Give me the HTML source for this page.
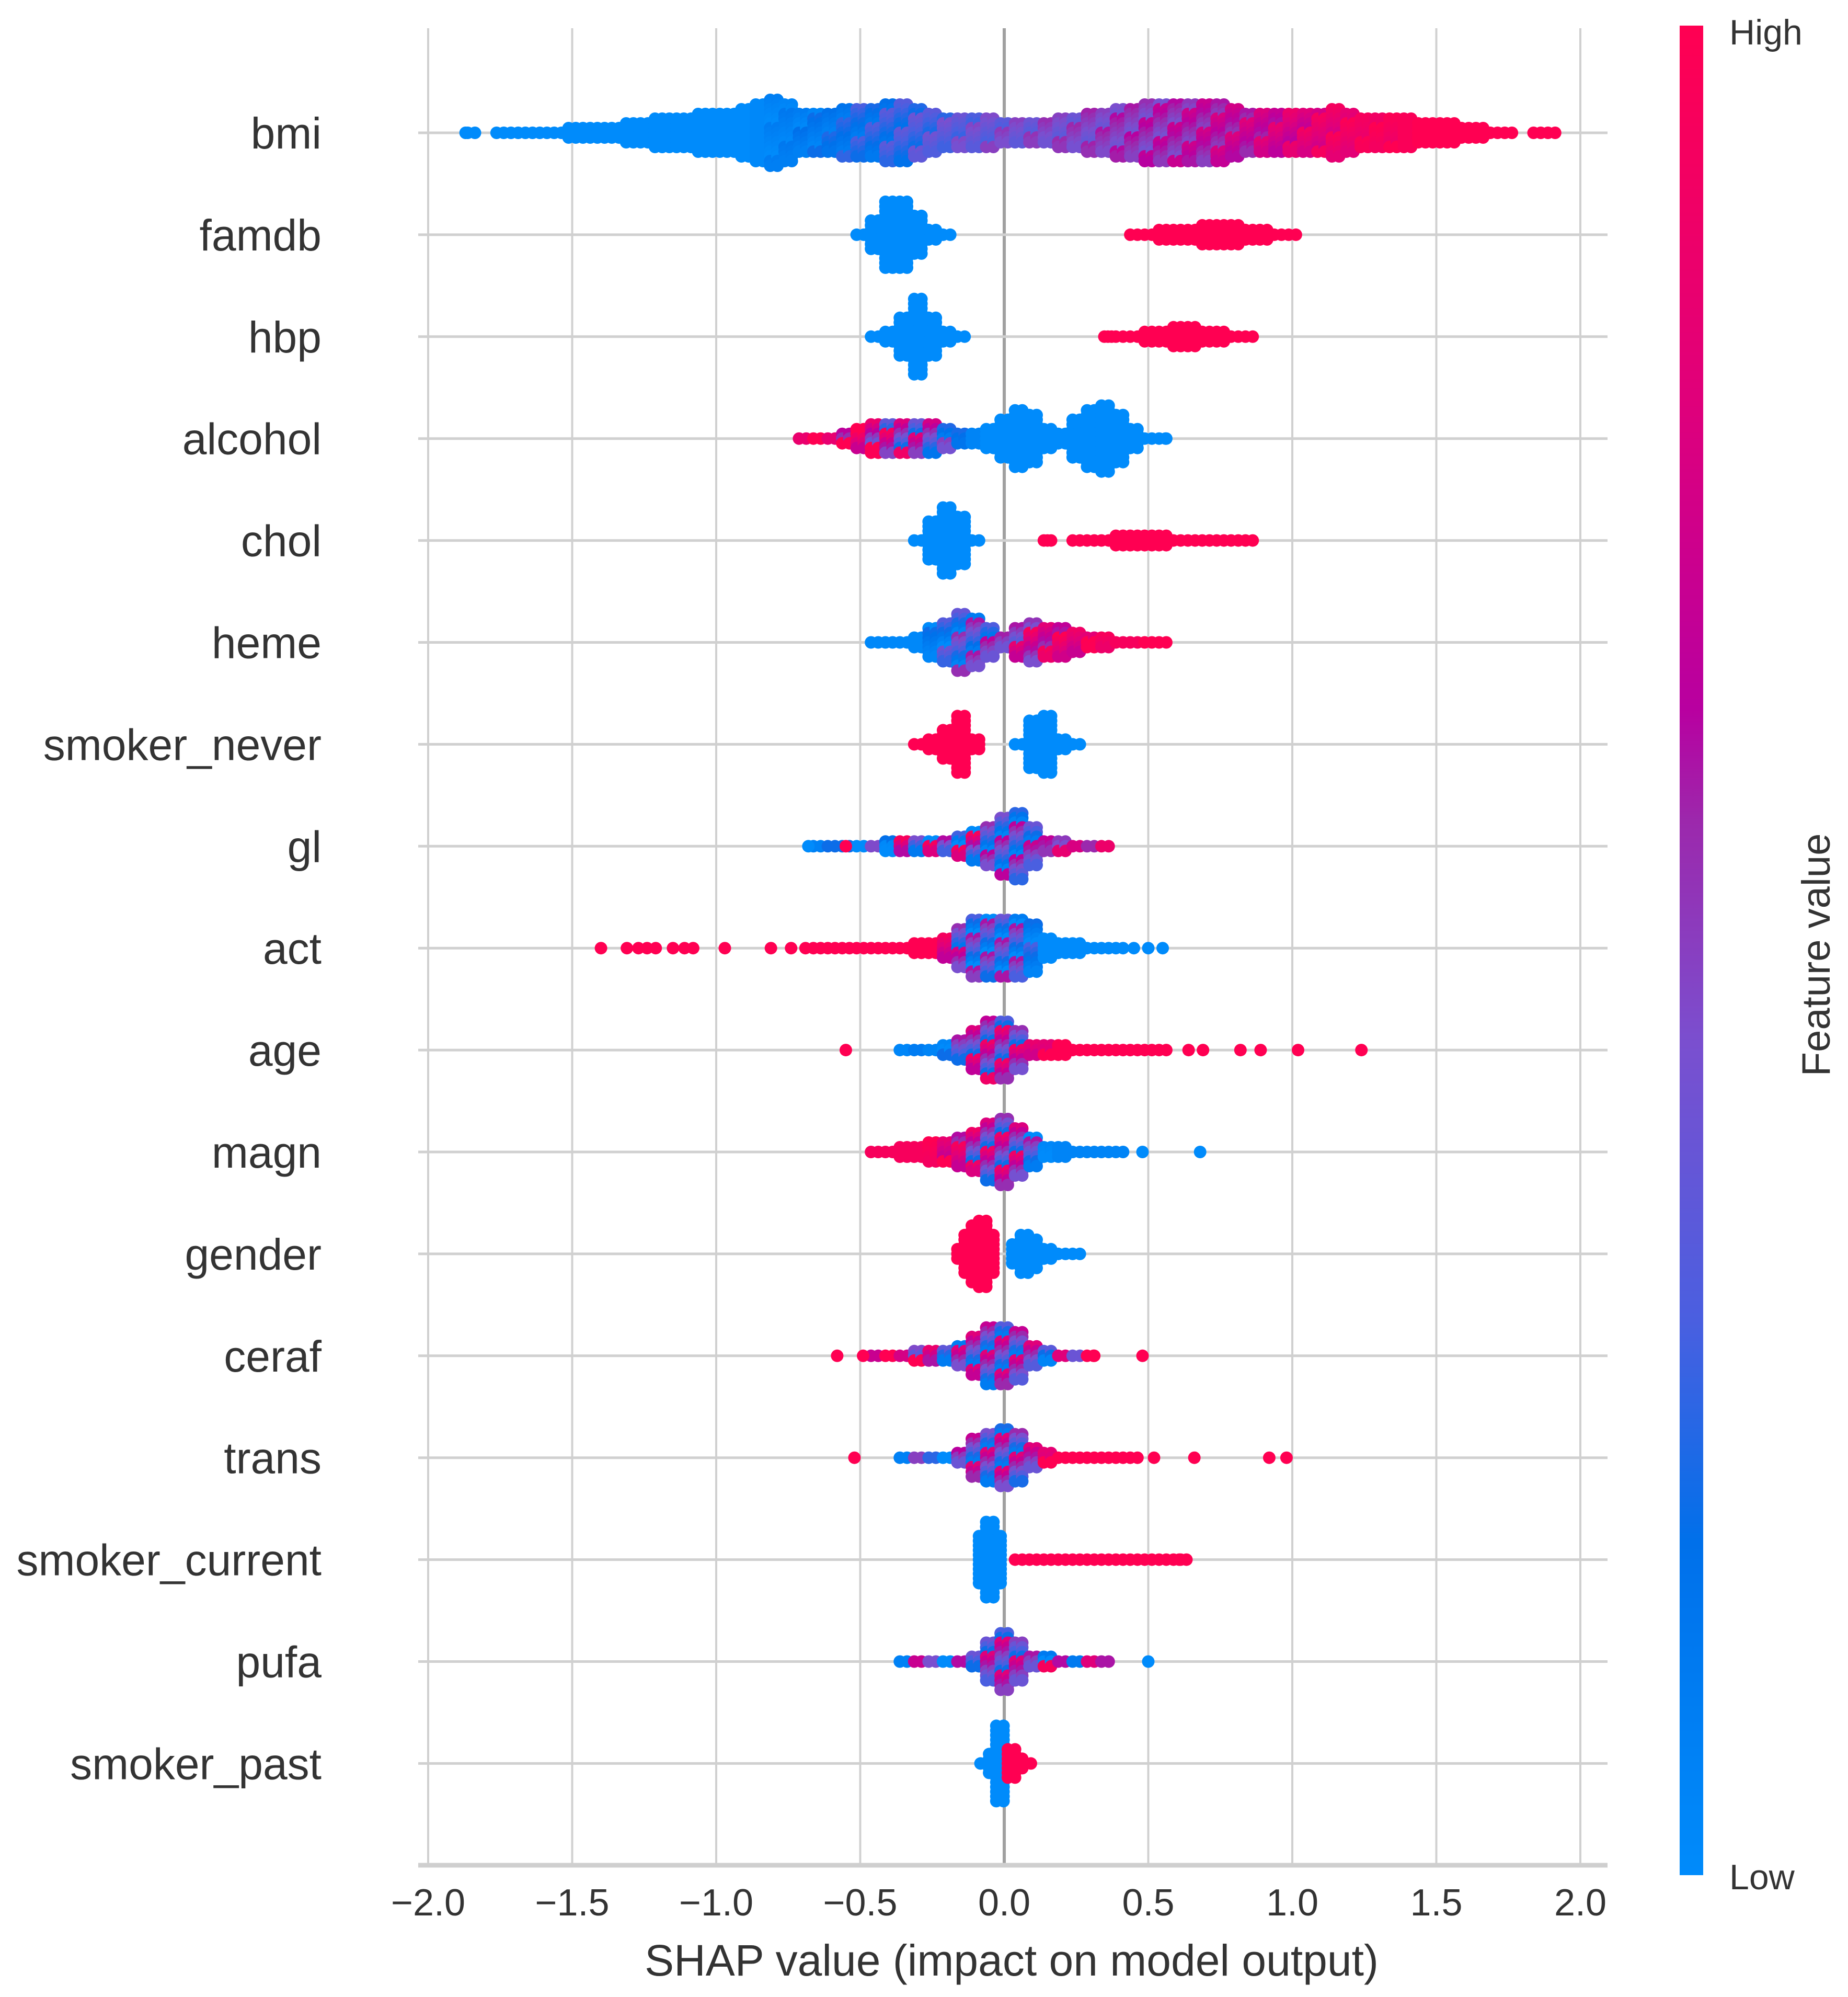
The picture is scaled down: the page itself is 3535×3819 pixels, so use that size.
<!DOCTYPE html>
<html><head><meta charset="utf-8"><style>
html,body{margin:0;padding:0;background:#fff;}
svg{display:block;}
text{font-family:"Liberation Sans",sans-serif;}
</style></head><body>
<svg id="chart" xmlns="http://www.w3.org/2000/svg" width="3535" height="3819" viewBox="0 0 3535 3819">
<defs>
<linearGradient id="cbar" x1="0" y1="1" x2="0" y2="0">
<stop offset="0" stop-color="#008bfb"/><stop offset="0.18" stop-color="#0070ea"/><stop offset="0.3" stop-color="#4a5fe0"/><stop offset="0.45" stop-color="#7a4fcf"/><stop offset="0.57" stop-color="#9c28ac"/><stop offset="0.63" stop-color="#b800a0"/><stop offset="0.8" stop-color="#e0007a"/><stop offset="1" stop-color="#ff0052"/>
</linearGradient>
</defs>
<g id="grid"></g>
<g id="dots"></g>
<g id="labels"></g>
<rect x="3213" y="49" width="45" height="3537" fill="url(#cbar)"/>
<text x="3308" y="85" font-size="68" fill="#333">High</text>
<text x="3308" y="3613" font-size="68" fill="#333">Low</text>
<text transform="translate(3500,1826) rotate(-90)" text-anchor="middle" font-size="76" fill="#333">Feature value</text>
<text x="1935" y="3778" text-anchor="middle" font-size="84" fill="#333">SHAP value (impact on model output)</text>
</svg>
<script>
const features = ["bmi","famdb","hbp","alcohol","chol","heme","smoker_never","gl","act","age","magn","gender","ceraf","trans","smoker_current","pufa","smoker_past"];
const xTicks = [-2.0,-1.5,-1.0,-0.5,0.0,0.5,1.0,1.5,2.0];
const xTickLabels = ["\u22122.0","\u22121.5","\u22121.0","\u22120.5","0.0","0.5","1.0","1.5","2.0"];

const bmiX = [-1.85,-1.75,-1.70,-1.65,-1.60,-1.55,-1.50,-1.45,-1.40,-1.35,-1.30,-1.25,-1.20,-1.15,-1.10,-1.05,-1.00,-0.95,-0.90,-0.85,-0.80,-0.75,-0.70,-0.65,-0.60,-0.55,-0.50,-0.45,-0.40,-0.35,-0.30,-0.25,-0.20,-0.15,-0.10,-0.05,0.00,0.05,0.10,0.15,0.20,0.25,0.30,0.35,0.40,0.45,0.50,0.55,0.60,0.65,0.70,0.75,0.80,0.85,0.90,0.95,1.00,1.05,1.10,1.15,1.20,1.25,1.30,1.35,1.40,1.45,1.50,1.55,1.60,1.65,1.70,1.75,1.85,1.90];
const bmiH = [8,8,8,10,12,14,18,20,22,24,28,32,38,42,42,45,48,50,58,68,72,62,50,45,48,55,55,60,65,70,55,45,38,35,38,35,32,30,28,32,35,40,45,50,55,60,62,65,68,70,68,62,55,50,48,45,45,48,52,55,48,42,38,38,35,30,28,30,22,18,14,12,12,10];
const bmiC = [0,0,0,0,0,0,0,0,0,0,0,0,0,0,0,0,0,0,0,0.02,0.05,0.08,0.1,0.12,0.15,0.18,0.2,0.22,0.25,0.27,0.3,0.32,0.35,0.37,0.38,0.4,0.42,0.43,0.44,0.45,0.46,0.47,0.48,0.5,0.52,0.53,0.55,0.56,0.58,0.6,0.62,0.64,0.66,0.68,0.7,0.73,0.76,0.8,0.84,0.87,0.9,0.93,0.95,0.95,0.97,1,1,1,1,1,1,1,1,1];
const bmiS = [0,0,0,0,0,0,0,0,0,0,0,0,0,0,0,0,0,0,0,0,0.05,0.05,0.08,0.08,0.08,0.08,0.1,0.1,0.1,0.1,0.1,0.1,0.1,0.1,0.1,0.1,0.1,0.1,0.1,0.1,0.1,0.1,0.1,0.1,0.1,0.1,0.12,0.12,0.12,0.12,0.12,0.12,0.12,0.12,0.12,0.12,0.12,0.12,0.1,0.1,0.08,0.05,0.05,0.05,0,0,0,0,0,0,0,0,0,0];

const famdbX = [-0.50,-0.45,-0.40,-0.35,-0.30,-0.25,-0.20,0.45,0.50,0.55,0.60,0.65,0.70,0.75,0.80,0.85,0.90,0.95,1.00];
const famdbH = [8,40,75,78,50,25,8,8,15,18,20,25,28,30,28,25,20,15,8];
const famdbC = [0,0,0,0,0,0,0,1,1,1,1,1,1,1,1,1,1,1,1];

const hbpX = [-0.45,-0.40,-0.35,-0.30,-0.25,-0.20,-0.15,0.36,0.40,0.45,0.50,0.55,0.60,0.65,0.70,0.75,0.80,0.85];
const hbpH = [8,25,50,82,50,20,8,8,10,15,18,22,27,28,25,20,15,10];
const hbpC = [0,0,0,0,0,0,0,1,1,1,1,1,1,1,1,1,1,1];

const alcoholX = [-0.70,-0.65,-0.60,-0.55,-0.50,-0.45,-0.40,-0.35,-0.30,-0.25,-0.20,-0.15,-0.10,-0.05,0.00,0.05,0.10,0.15,0.20,0.25,0.30,0.35,0.40,0.45,0.50,0.55];
const alcoholH = [10,12,15,22,28,35,38,38,38,35,30,25,22,30,50,65,55,30,25,45,65,78,55,30,15,10];
const alcoholC = [0.9,0.9,0.85,0.85,0.8,0.75,0.6,0.55,0.5,0.45,0.3,0.15,0.05,0,0,0,0,0,0,0,0,0,0,0,0,0];
const alcoholS = [0.1,0.1,0.3,0.3,0.3,0.35,0.35,0.35,0.3,0.3,0.2,0.1,0,0,0,0,0,0,0,0,0,0,0,0,0,0];

const cholX = [-0.30,-0.25,-0.20,-0.15,-0.10,0.15,0.25,0.30,0.35,0.40,0.45,0.50,0.55,0.60,0.65,0.70,0.75,0.80,0.85];
const cholH = [10,45,78,60,15,8,12,14,16,18,20,20,18,16,14,12,10,10,8];
const cholC = [0,0,0,0,0,1,1,1,1,1,1,1,1,1,1,1,1,1,1];

const hemeX = [-0.45,-0.40,-0.35,-0.30,-0.25,-0.20,-0.15,-0.10,-0.05,0.00,0.05,0.10,0.15,0.20,0.25,0.30,0.35,0.40,0.45,0.50,0.55];
const hemeH = [10,12,15,22,35,50,70,55,35,25,40,45,42,40,30,25,20,15,12,10,10];
const hemeC = [0.02,0.02,0.02,0.02,0.1,0.2,0.3,0.35,0.4,0.5,0.6,0.7,0.75,0.8,0.85,0.92,0.92,0.95,0.95,1,1];
const hemeS = [0,0,0,0,0.1,0.2,0.25,0.25,0.25,0.25,0.25,0.25,0.2,0.2,0.15,0.1,0.1,0,0,0,0];

const neverX = [-0.30,-0.25,-0.20,-0.15,-0.10,0.05,0.10,0.15,0.20,0.25];
const neverH = [10,20,40,62,25,15,60,70,25,10];
const neverC = [1,1,1,1,1,0,0,0,0,0];

const glX = [-0.65,-0.60,-0.55,-0.50,-0.45,-0.40,-0.35,-0.30,-0.25,-0.20,-0.15,-0.10,-0.05,0.00,0.05,0.10,0.15,0.20,0.25,0.30,0.35];
const glH = [10,10,12,14,16,18,20,22,22,25,28,35,50,70,75,45,25,18,14,12,10];
const glC = [0.1,0.1,0.2,0.3,0.3,0.35,0.45,0.45,0.45,0.45,0.45,0.45,0.35,0.35,0.35,0.4,0.6,0.65,0.7,0.7,0.75];
const glS = [0.1,0.1,0.5,0.5,0.5,0.5,0.5,0.5,0.5,0.5,0.5,0.5,0.3,0.3,0.3,0.3,0.2,0.2,0.2,0.2,0.2];

const actX = [-0.65,-0.60,-0.55,-0.50,-0.45,-0.40,-0.35,-0.30,-0.25,-0.20,-0.15,-0.10,-0.05,0.00,0.05,0.10,0.15,0.20,0.25,0.30,0.35,0.40];
const actH = [10,12,12,14,14,15,16,18,20,28,45,65,70,68,70,55,30,22,18,15,12,10];
const actC = [1,1,1,1,1,1,1,1,1,0.8,0.45,0.3,0.3,0.3,0.3,0.15,0,0,0,0,0,0];
const actS = [0,0,0,0,0,0,0,0,0,0.2,0.3,0.3,0.3,0.3,0.3,0.15,0,0,0,0,0,0];

const ageX = [-0.35,-0.30,-0.25,-0.20,-0.15,-0.10,-0.05,0.00,0.05,0.10,0.15,0.20,0.25,0.30,0.35,0.40,0.45,0.50,0.55];
const ageH = [10,12,14,18,30,50,68,70,45,25,20,18,16,15,14,13,12,11,10];
const ageC = [0.05,0.05,0.05,0.1,0.3,0.55,0.55,0.55,0.55,0.8,0.9,1,1,1,1,1,1,1,1];
const ageS = [0.05,0.05,0.05,0.1,0.3,0.35,0.35,0.35,0.35,0.2,0.1,0,0,0,0,0,0,0,0];

const magnX = [-0.45,-0.40,-0.35,-0.30,-0.25,-0.20,-0.15,-0.10,-0.05,0.00,0.05,0.10,0.15,0.20,0.25,0.30,0.35,0.40];
const magnH = [10,14,18,22,26,30,38,50,62,72,60,40,25,18,14,12,10,10];
const magnC = [0.95,0.95,0.95,0.95,0.95,0.85,0.75,0.55,0.55,0.55,0.55,0.3,0.05,0.05,0.05,0.05,0.05,0.05];
const magnS = [0,0,0,0,0.05,0.15,0.2,0.35,0.35,0.35,0.35,0.3,0.05,0,0,0,0,0];

const genderX = [-0.15,-0.125,-0.10,-0.075,-0.05,0.04,0.07,0.10,0.15,0.20,0.25];
const genderH = [18,50,70,72,50,30,45,35,20,12,10];
const genderC = [1,1,1,1,1,0,0,0,0,0,0];

const cerafX = [-0.45,-0.40,-0.35,-0.30,-0.25,-0.20,-0.15,-0.10,-0.05,0.00,0.05,0.10,0.15,0.20,0.25,0.30];
const cerafH = [10,14,16,18,20,22,30,45,62,70,55,30,18,14,10,10];
const cerafC = [0.8,0.8,0.75,0.7,0.6,0.5,0.45,0.45,0.45,0.45,0.45,0.45,0.5,0.5,0.55,0.6];
const cerafS = [0.3,0.3,0.3,0.35,0.4,0.4,0.35,0.35,0.35,0.35,0.35,0.35,0.45,0.45,0.45,0.4];

const transX = [-0.35,-0.30,-0.25,-0.20,-0.15,-0.10,-0.05,0.00,0.05,0.10,0.15,0.20,0.25,0.30,0.35,0.40,0.45];
const transH = [10,12,14,16,25,45,60,70,55,30,20,16,14,12,10,10,10];
const transC = [0.1,0.2,0.25,0.3,0.4,0.45,0.45,0.45,0.45,0.6,0.9,1,1,1,1,1,1];
const transS = [0.1,0.3,0.3,0.35,0.35,0.35,0.35,0.35,0.35,0.3,0.1,0,0,0,0,0,0];

const currentX = [-0.075,-0.05,-0.025,0.05,0.10,0.15,0.20,0.25,0.30,0.35,0.40,0.45,0.50,0.55,0.60,0.62];
const currentH = [60,80,60,12,12,12,12,12,12,12,12,12,12,12,12,10];
const currentC = [0,0,0,1,1,1,1,1,1,1,1,1,1,1,1,1];

const pufaX = [-0.35,-0.30,-0.25,-0.20,-0.15,-0.10,-0.05,0.00,0.05,0.10,0.15,0.20,0.25,0.30,0.35];
const pufaH = [10,10,12,14,16,25,45,65,50,25,18,14,12,12,10];
const pufaC = [0.1,0.3,0.45,0.45,0.45,0.5,0.5,0.5,0.5,0.5,0.45,0.45,0.45,0.5,0.7];
const pufaS = [0.1,0.4,0.5,0.5,0.5,0.3,0.3,0.3,0.3,0.3,0.5,0.5,0.5,0.45,0.3];

const pastX = [-0.07,-0.04,-0.015,0.025,0.05,0.08];
const pastH = [15,30,80,35,20,12];
const pastC = [0,0,0,1,1,1];

const outRow = [0,8,8,8,8,8,8,8,8,8,8,8,8,8,8,8,9,9,9,9,9,9,9,10,10,12,12,12,12,13,13,13,13,13,15,4,2,3,7,7];
const outX = [-1.87,-1.40,-1.31,-1.27,-1.24,-1.21,-1.15,-1.11,-1.08,-0.97,-0.81,-0.74,-0.69,0.45,0.50,0.55,-0.55,0.64,0.69,0.82,0.89,1.02,1.24,0.48,0.68,-0.58,-0.49,0.31,0.48,-0.52,0.52,0.66,0.92,0.98,0.50,0.15,0.36,0.56,-0.68,-0.55];
const outC = [0,1,1,1,1,1,1,1,1,1,1,1,1,0,0,0,1,1,1,1,1,1,1,0,0,1,1,1,1,1,1,1,1,1,0,1,1,0,0,1];

const rowsX = [bmiX,famdbX,hbpX,alcoholX,cholX,hemeX,neverX,glX,actX,ageX,magnX,genderX,cerafX,transX,currentX,pufaX,pastX];
const rowsH = [bmiH,famdbH,hbpH,alcoholH,cholH,hemeH,neverH,glH,actH,ageH,magnH,genderH,cerafH,transH,currentH,pufaH,pastH];
const rowsC = [bmiC,famdbC,hbpC,alcoholC,cholC,hemeC,neverC,glC,actC,ageC,magnC,genderC,cerafC,transC,currentC,pufaC,pastC];
const rowsS = [bmiS,null,null,alcoholS,null,hemeS,null,glS,actS,ageS,magnS,null,cerafS,transS,null,pufaS,null];

const NS = "http://www.w3.org/2000/svg";
const X0 = 1921, XS = 551, PL = 800, PR = 3075, PT = 54, PB = 3567;
const xPos = v => X0 + v * XS;
const yPos = i => 254 + i * 194.9;

const stops = [[0,[0,139,251]],[0.18,[0,112,234]],[0.3,[74,95,224]],[0.45,[122,79,207]],[0.57,[156,40,172]],[0.63,[184,0,160]],[0.8,[224,0,122]],[1,[255,0,82]]];
function cmap(t){
  t = Math.max(0, Math.min(1, t));
  for (let i = 1; i < stops.length; i++) {
    if (t <= stops[i][0]) {
      const a = stops[i-1], b = stops[i], f = (t - a[0]) / (b[0] - a[0]);
      const c = a[1].map((v, k) => Math.round(v + (b[1][k] - v) * f));
      return "rgb(" + c.join(",") + ")";
    }
  }
  return "rgb(255,0,82)";
}
function mk(tag, attrs, parent){
  const e = document.createElementNS(NS, tag);
  for (const k in attrs) e.setAttribute(k, attrs[k]);
  parent.appendChild(e);
  return e;
}

const grid = document.getElementById("grid");
xTicks.forEach((t, i) => {
  const ln = mk("line", {x1: xPos(t), x2: xPos(t), y1: PT, y2: PB, stroke: t === 0 ? "#a0a0a0" : "#d0d0d0", "stroke-width": t === 0 ? 6 : 4}, grid);
  
  
  const tx = mk("text", {x: xPos(t), y: 3663, "text-anchor": "middle", "font-size": 72, fill: "#333"}, grid);
  tx.textContent = xTickLabels[i];
  
  
});
features.forEach((f, i) => {
  const ln = mk("line", {x1: PL, x2: PR, y1: yPos(i), y2: yPos(i), stroke: "#d0d0d0", "stroke-width": 5}, grid);
  
  
});
const axis = mk("line", {x1: PL, x2: PR, y1: PB, y2: PB, stroke: "#cfcfcf", "stroke-width": 9}, grid);



const labels = document.getElementById("labels");
features.forEach((f, i) => {
  const t = mk("text", {x: 615, y: yPos(i) + 30, "text-anchor": "end", "font-size": 84, fill: "#333"}, labels);
  t.textContent = f;
  
  
});

const dots = document.getElementById("dots");
const R = 12, DY = 9;
features.forEach((f, i) => {
  const g = mk("g", {}, dots);
  
  
  const xs = rowsX[i], hs = rowsH[i], cs = rowsC[i], ss = rowsS[i];
  const cy = yPos(i);
  xs.forEach((x, j) => {
    const n = Math.max(0, Math.round((hs[j] - R) / DY));
    [-0.0125, 0.0125].forEach((off, col) => {
      for (let k = -n; k <= n; k++) {
        const pat = ((((k + 40) * 13 + col * 7 + j * 11) % 7) - 3) / 3;
        const cv = cs[j] + (ss ? ss[j] : 0) * pat;
        const c = mk("circle", {cx: xPos(x + off), cy: cy + k * DY, r: R, fill: cmap(cv)}, g);
        
        
      }
    });
  });
});
outX.forEach((x, j) => {
  const c = mk("circle", {cx: xPos(x), cy: yPos(outRow[j]), r: R, fill: cmap(outC[j])}, dots);
  
  
});
</script>
</body></html>
